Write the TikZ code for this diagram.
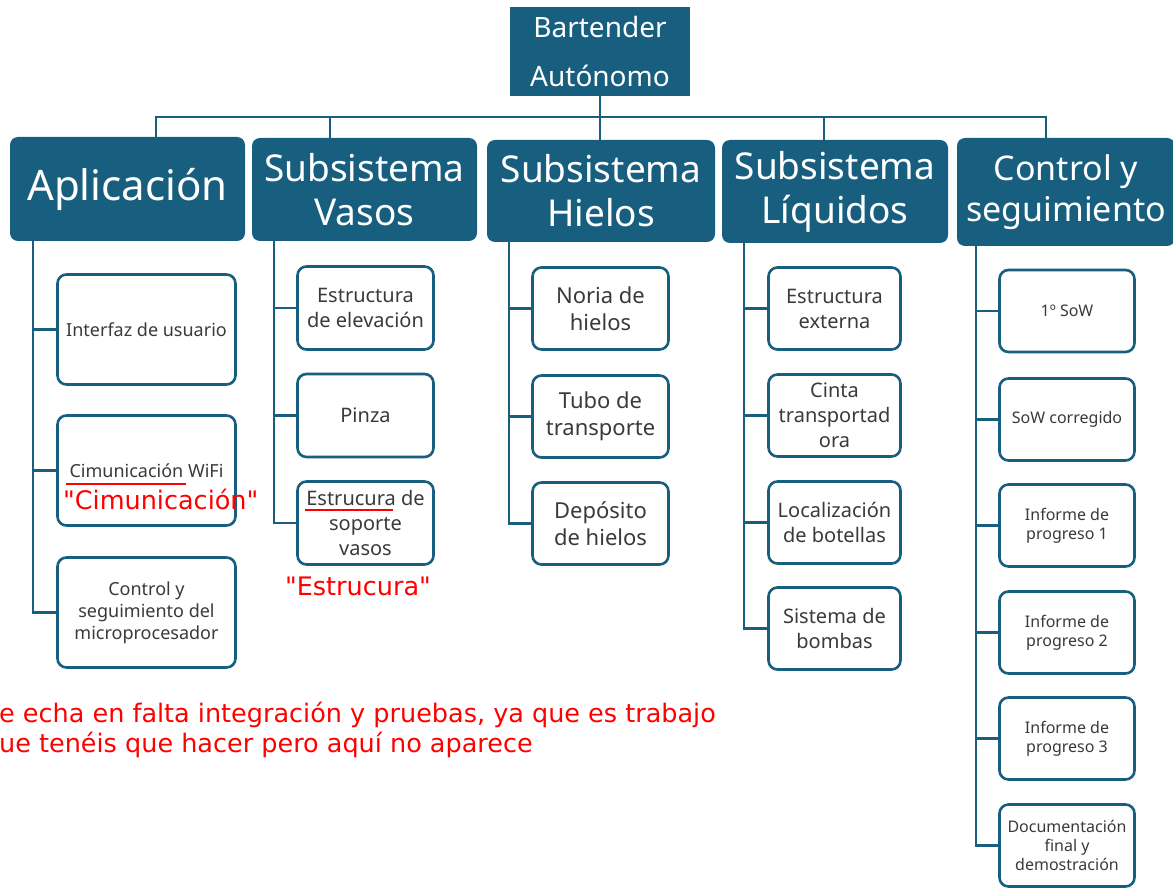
\documentclass[tikz,border=0pt]{standalone}
\usepackage{fontspec}
\setmainfont{Noto Sans}
\newfontfamily\redfont{DejaVu Sans}
\definecolor{wbs}{HTML}{175E7F}
\definecolor{kidtext}{HTML}{3A3A3A}
\definecolor{remark}{HTML}{FF0000}
\begin{document}
\begin{tikzpicture}[x=1pt,y=-1pt,
  rootbox/.style={fill=wbs,text=white,minimum width=180,minimum height=89,inner sep=0,align=center,font=\fontsize{28}{49}\selectfont},
  lone/.style={fill=wbs,text=white,rounded corners=8pt,inner sep=0,align=center},
  kid/.style={draw=wbs,line width=2.6pt,rounded corners=9pt,fill=white,text=kidtext,inner sep=0,align=center},
  link/.style={draw=wbs,line width=2.6pt},
  redline/.style={draw=remark,line width=2.6pt},
  redtxt/.style={text=remark,inner sep=0,font=\redfont\fontsize{25.5}{30}\selectfont}]
\useasboundingbox (0,0) rectangle (1173,890);
% root
\node[rootbox] (root) at (600,51.5) {Bartender\\Autónomo};
% level 1
\node[lone,minimum width=235,minimum height=104,font=\fontsize{42}{50}\selectfont] (app) at (127.5,189) {Aplicación};
\node[lone,minimum width=225,minimum height=103,font=\fontsize{37}{44}\selectfont] (vas) at (364.5,189.5) {Subsistema\\Vasos};
\node[lone,minimum width=228,minimum height=102,font=\fontsize{37}{44}\selectfont] (hie) at (601,191) {Subsistema\\Hielos};
\node[lone,minimum width=226,minimum height=103,font=\fontsize{37}{44}\selectfont] (liq) at (835,191.5) {Subsistema\\Líquidos};
\node[lone,minimum width=218,minimum height=108,font=\fontsize{34}{41}\selectfont] (con) at (1066,192) {Control y\\seguimiento};
% children Aplicacion
\tikzset{ka/.style={kid,minimum width=178,minimum height=110,font=\fontsize{18}{22}\selectfont}}
\node[ka] (a1) at (146.5,329.5) {Interfaz de usuario};
\node[ka] (a2) at (146.5,470.5) {Cimunicación WiFi};
\node[ka] (a3) at (146.5,612.5) {Control y\\seguimiento del\\microprocesador};
% children Vasos
\tikzset{kb/.style={kid,minimum width=136,minimum height=83,font=\fontsize{20}{25}\selectfont}}
\node[kb] (b1) at (365.5,308) {Estructura\\de elevación};
\node[kb] (b2) at (365.5,415.5) {Pinza};
\node[kb] (b3) at (365.5,523) {Estrucura de\\soporte\\vasos};
% children Hielos
\tikzset{kc/.style={kid,minimum width=136,minimum height=82,font=\fontsize{22}{27}\selectfont}}
\node[kc] (c1) at (600.5,308.5) {Noria de\\hielos};
\node[kc] (c2) at (600.5,416.5) {Tubo de\\transporte};
\node[kc] (c3) at (600.5,523.5) {Depósito\\de hielos};
% children Liquidos
\tikzset{kd/.style={kid,minimum width=132,minimum height=82,font=\fontsize{20}{25}\selectfont}}
\node[kd] (d1) at (834.5,308.5) {Estructura\\externa};
\node[kd] (d2) at (834.5,415.5) {Cinta\\transportad\\ora};
\node[kd] (d3) at (834.5,522.5) {Localización\\de botellas};
\node[kd] (d4) at (834.5,628.5) {Sistema de\\bombas};
% children Control
\tikzset{ke/.style={kid,minimum width=135,minimum height=82,font=\fontsize{16}{19}\selectfont}}
\node[ke] (e1) at (1067,311) {1º SoW};
\node[ke] (e2) at (1067,419.5) {SoW corregido};
\node[ke] (e3) at (1067,525.5) {Informe de\\progreso 1};
\node[ke] (e4) at (1067,632.5) {Informe de\\progreso 2};
\node[ke] (e5) at (1067,738.5) {Informe de\\progreso 3};
\node[ke] (e6) at (1067,845.5) {Documentación\\final y\\demostración};
% top connectors
\coordinate (dA) at (156,117);
\coordinate (dB) at (330,117);
\coordinate (dD) at (824,117);
\coordinate (dE) at (1046,117);
\draw[link] (app.north -| dA) -- (dA) -- (dE) -- (con.north -| dE);
\draw[link] (dB) -- (vas.north -| dB);
\draw[link] (dD) -- (liq.north -| dD);
\draw[link] (root.south) -- (hie.north -| root.south);
% spines
\coordinate (xA) at (33,0);
\coordinate (xB) at (274,0);
\coordinate (xC) at (509,0);
\coordinate (xD) at (744,0);
\coordinate (xE) at (976,0);
\draw[link] (app.south -| xA) |- (a3.west);
\foreach \k in {a1,a2} \draw[link] (\k.west -| xA) -- (\k.west);
\draw[link] (vas.south -| xB) |- (b3.west);
\foreach \k in {b1,b2} \draw[link] (\k.west -| xB) -- (\k.west);
\draw[link] (hie.south -| xC) |- (c3.west);
\foreach \k in {c1,c2} \draw[link] (\k.west -| xC) -- (\k.west);
\draw[link] (liq.south -| xD) |- (d4.west);
\foreach \k in {d1,d2,d3} \draw[link] (\k.west -| xD) -- (\k.west);
\draw[link] (con.south -| xE) |- (e6.west);
\foreach \k in {e1,e2,e3,e4,e5} \draw[link] (\k.west -| xE) -- (\k.west);
% remarks
\draw[redline] (66,484) -- (186,484);
\draw[redline] (305,510) -- (393,510);
\node[redtxt,anchor=west] (q1) at (63,499) {"Cimunicación"};
\node[redtxt] (q2) at (358,586) {"Estrucura"};
\node[redtxt,anchor=north west,align=left] (note) at (-1,702) {e echa en falta integración y pruebas, ya que es trabajo\\ue tenéis que hacer pero aquí no aparece};
\end{tikzpicture}
\end{document}
